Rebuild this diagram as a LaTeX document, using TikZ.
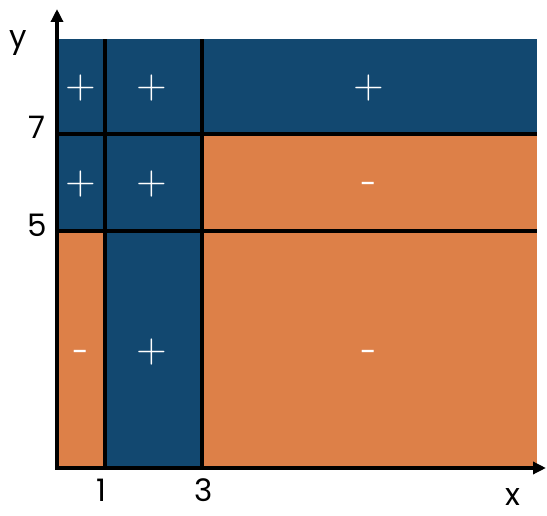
\documentclass[tikz,border=0pt]{standalone}
\usepackage{fontspec}
\setmainfont{Poppins}
\newfontfamily\signfont{Latin Modern Sans}
\usepackage{tikz}
\usetikzlibrary{arrows.meta}
\definecolor{posblue}{RGB}{18,72,112}
\definecolor{negorange}{RGB}{221,128,72}

\begin{document}
\begin{tikzpicture}[
    x=1pt, y=1pt,
    sign/.style={text=white, font=\signfont\fontsize{42}{44}\selectfont},
    minus/.style={text=white, font=\fontsize{30}{32}\selectfont},
    tick/.style={font=\fontsize{31}{33}\selectfont},
    grid/.style={line width=3.5pt},
    axis/.style={line width=3.5pt, -{Triangle[length=13pt, width=12pt]}}
]
\useasboundingbox (0,0) rectangle (547,515);
% regions
\fill[negorange] (57,47) rectangle (537,476);
\fill[posblue] (105,47) rectangle (202,476);
\fill[posblue] (57,284) rectangle (202,476);
\fill[posblue] (57,381) rectangle (537,476);
% grid lines
\draw[grid] (105,47) -- (105,476);
\draw[grid] (202,47) -- (202,476);
\draw[grid] (57,381) -- (537,381);
\draw[grid] (57,284) -- (537,284);
% axes
\coordinate (o) at (57,47);
\coordinate (xend) at (546,47);
\coordinate (yend) at (57,506);
\draw[axis] ([xshift=-1.75pt]o) -- (xend);
\draw[axis] ([yshift=-1.75pt]o) -- (yend);
% tick labels
\node[tick] (ly) at (18,472) {y};
\node[tick] (lx) at (513,18) {x};
\node[tick] (l7) at (37,388) {7};
\node[tick] (l5) at (37,290) {5};
\node[tick] (l1) at (101,25) {1};
\node[tick] (l3) at (204,25) {3};
% signs
\node[sign] (s11) at (81,427) {+};
\node[sign] (s12) at (152,427) {+};
\node[sign] (s13) at (369,427) {+};
\node[sign] (s21) at (81,331) {+};
\node[sign] (s22) at (152,331) {+};
\node[minus] (s23) at (369,327) {-};
\node[minus] (s31) at (81,159) {-};
\node[sign] (s32) at (152,163) {+};
\node[minus] (s33) at (369,159) {-};
\end{tikzpicture}
\end{document}
